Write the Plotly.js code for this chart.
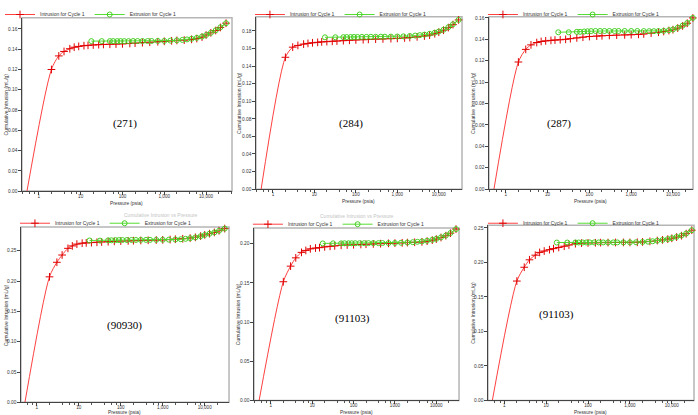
<!DOCTYPE html>
<html><head><meta charset="utf-8">
<script src="https://cdn.plot.ly/plotly-3.0.1.min.js"></script>
<style>html,body{margin:0;padding:0;background:#fff}</style>
</head><body><div id="chart" style="width:698px;height:415px"></div>
<script>
// ---- data ----
const intrusionPressure = [0.52, 2, 3, 4, 5.5, 7, 9, 12, 15, 20, 27, 35, 50, 70, 100, 150, 200, 300, 450, 700, 1000, 1500, 2000, 3000, 4500, 6000, 8000, 10000, 13000, 17000, 22000, 30000];
const extrusionPressure = [18, 32, 50, 60, 75, 90, 110, 140, 180, 230, 300, 400, 500, 700, 1000, 1400, 2000, 2700, 3500, 4500, 6000, 8000, 10000, 13000, 17000, 22000, 30000];

const intrusion271 = [0, 0.120, 0.1334, 0.1378, 0.1405, 0.1420, 0.1428, 0.1435, 0.1438, 0.1442, 0.1445, 0.1447, 0.1449, 0.1451, 0.1453, 0.1457, 0.1460, 0.1465, 0.1469, 0.1474, 0.1478, 0.1483, 0.1487, 0.1490, 0.1497, 0.1505, 0.1520, 0.1540, 0.1562, 0.1585, 0.1615, 0.1657];
const extrusion271 = [0.1480, 0.1480, 0.1480, 0.1480, 0.1480, 0.1480, 0.1480, 0.1480, 0.1481, 0.1481, 0.1481, 0.1481, 0.1481, 0.1482, 0.1482, 0.1485, 0.1488, 0.1492, 0.1497, 0.1503, 0.1512, 0.1525, 0.1540, 0.1562, 0.1587, 0.1617, 0.1657];

const intrusion284 = [0, 0.150, 0.1615, 0.1635, 0.1650, 0.1658, 0.1665, 0.1670, 0.1675, 0.1678, 0.1682, 0.1685, 0.1689, 0.1693, 0.1697, 0.1700, 0.1703, 0.1706, 0.1709, 0.1712, 0.1715, 0.1720, 0.1725, 0.1732, 0.1742, 0.1752, 0.1768, 0.1785, 0.1808, 0.1838, 0.1872, 0.1925];
const extrusion284 = [0.1727, 0.1728, 0.1729, 0.1730, 0.1730, 0.1731, 0.1731, 0.1732, 0.1732, 0.1733, 0.1733, 0.1734, 0.1734, 0.1735, 0.1736, 0.1738, 0.1742, 0.1747, 0.1752, 0.1758, 0.1767, 0.1780, 0.1793, 0.1813, 0.1842, 0.1876, 0.1925];

const intrusion287 = [0, 0.1188, 0.1306, 0.1348, 0.1370, 0.1380, 0.1385, 0.1390, 0.1393, 0.1396, 0.1400, 0.1406, 0.1413, 0.1420, 0.1426, 0.1430, 0.1433, 0.1436, 0.1439, 0.1441, 0.1443, 0.1446, 0.1450, 0.1458, 0.1466, 0.1473, 0.1482, 0.1490, 0.1505, 0.1525, 0.1550, 0.1600];
const extrusion287 = [0.1466, 0.1466, 0.1470, 0.1470, 0.1473, 0.1475, 0.1477, 0.1478, 0.1478, 0.1478, 0.1478, 0.1478, 0.1478, 0.1478, 0.1478, 0.1478, 0.1477, 0.1476, 0.1476, 0.1477, 0.1479, 0.1485, 0.1492, 0.1508, 0.1528, 0.1553, 0.1600];

const intrusion90930 = [0, 0.207, 0.231, 0.243, 0.254, 0.258, 0.261, 0.2625, 0.263, 0.2635, 0.264, 0.2645, 0.265, 0.2655, 0.266, 0.2663, 0.2666, 0.267, 0.2673, 0.2677, 0.268, 0.2685, 0.269, 0.2698, 0.2710, 0.2722, 0.2742, 0.2762, 0.2782, 0.2803, 0.2830, 0.2866];
const extrusion90930 = [0.2670, 0.2668, 0.2672, 0.2673, 0.2675, 0.2676, 0.2677, 0.2677, 0.2678, 0.2678, 0.2679, 0.2679, 0.2680, 0.2680, 0.2681, 0.2683, 0.2686, 0.2690, 0.2697, 0.2707, 0.2720, 0.2740, 0.2760, 0.2781, 0.2803, 0.2830, 0.2866];

const intrusion91103a = [0, 0.1515, 0.1714, 0.1820, 0.1890, 0.1915, 0.1935, 0.1945, 0.1950, 0.1960, 0.1967, 0.1973, 0.1980, 0.1984, 0.1987, 0.1991, 0.1994, 0.1998, 0.2001, 0.2005, 0.2008, 0.2012, 0.2015, 0.2019, 0.2024, 0.2033, 0.2046, 0.2060, 0.2080, 0.2103, 0.2135, 0.2187];
const extrusion91103a = [0.2004, 0.2005, 0.2005, 0.2006, 0.2006, 0.2006, 0.2007, 0.2007, 0.2007, 0.2008, 0.2008, 0.2008, 0.2009, 0.2009, 0.2010, 0.2013, 0.2016, 0.2020, 0.2025, 0.2030, 0.2038, 0.2050, 0.2063, 0.2082, 0.2105, 0.2137, 0.2187];

const intrusion91103b = [0, 0.173, 0.193, 0.2038, 0.2105, 0.2145, 0.2165, 0.2185, 0.2200, 0.2217, 0.2235, 0.2252, 0.2272, 0.2280, 0.2283, 0.2285, 0.2287, 0.2288, 0.2289, 0.2290, 0.2290, 0.2292, 0.2297, 0.2305, 0.2317, 0.2327, 0.2338, 0.2350, 0.2368, 0.2388, 0.2417, 0.2467];
const extrusion91103b = [0.2288, 0.2288, 0.2289, 0.2289, 0.2289, 0.2289, 0.2290, 0.2290, 0.2290, 0.2290, 0.2290, 0.2290, 0.2290, 0.2290, 0.2291, 0.2292, 0.2296, 0.2301, 0.2307, 0.2316, 0.2326, 0.2338, 0.2352, 0.2370, 0.2390, 0.2419, 0.2467];

const sampleLabels = ['(271)', '(284)', '(287)', '(90930)', '(91103)', '(91103)'];
const seriesNames = ['Intrusion for Cycle 1', 'Extrusion for Cycle 1'];
const xTickVals = [1, 10, 100, 1000, 10000];
const xTickTextComma = ['1', '10', '100', '1,000', '10,000'];
const xTickTextPlain = ['1', '10', '100', '1000', '10000'];
const xAxisTitle = 'Pressure (psia)';
const yAxisTitle = 'Cumulative Intrusion (mL/g)';
const faintTitle = 'Cumulative Intrusion vs Pressure';

// ---- layout geometry (pixels) ----
const W = 698, H = 415;
const panels = [
  {intr: intrusion271,   extr: extrusion271,   box: [19, 230, 7, 185],   yr: [0, 0.171], xr: [-0.405, 4.62], dy: 0.02, tt: xTickTextComma, yt: 3,   xt: 197.5, lg: [-3, 3.5]},
  {intr: intrusion284,   extr: extrusion284,   box: [254, 461, 6, 183],  yr: [0, 0.196], xr: [-0.41, 4.56],  dy: 0.02, tt: xTickTextComma, yt: 237, xt: 196, lg: [248, 3.5]},
  {intr: intrusion287,   extr: extrusion287,   box: [488, 693, 6, 183],  yr: [0, 0.161], xr: [-0.405, 4.48], dy: 0.02, tt: xTickTextComma, yt: 472, xt: 196, lg: [482, 3.5]},
  {intr: intrusion90930, extr: extrusion90930, box: [18, 227, 222, 402], yr: [0, 0.289], xr: [-0.38, 4.58],  dy: 0.05, tt: xTickTextComma, yt: 2.5, xt: 412.3, lg: [12, 218]},
  {intr: intrusion91103a,extr: extrusion91103a,box: [252, 458, 223, 400],yr: [0, 0.22],  xr: [-0.41, 4.55],  dy: 0.05, tt: xTickTextPlain, yt: 236, xt: 412.3, lg: [246, 219]},
  {intr: intrusion91103b,extr: extrusion91103b,box: [487, 694, 220, 400],yr: [0, 0.254], xr: [-0.39, 4.53],  dy: 0.05, tt: xTickTextComma, yt: 472, xt: 412.3, lg: [482, 218]}
];
const labelPos = [[108,107],[350,107],[572,107],[102,332],[351,325],[575,320]];

const minorVals = [];
[0.1,1,10,100,1000,10000].forEach(d => [2,4,6,8].forEach(m => minorVals.push(d*m)));

const px = x => x / W, py = y => 1 - y / H;
const FONT = 'Liberation Sans, Arial, sans-serif';
const data = [], layout = {
  width: W, height: H, margin: {l:0, r:0, t:0, b:0},
  paper_bgcolor: '#fff', plot_bgcolor: '#fff',
  font: {family: FONT, size: 5, color: '#333'},
  annotations: [], shapes: []
};

panels.forEach((p, i) => {
  const n = i + 1, sfx = n === 1 ? '' : String(n);
  const xa = 'x' + sfx, ya = 'y' + sfx;
  const lg = 'legend' + sfx;
  const [x0, x1, y0, y1] = p.box;
  layout['xaxis' + sfx] = {
    type: 'log', domain: [px(x0), px(x1)], range: p.xr, anchor: ya,
    tickmode: 'array', tickvals: xTickVals, ticktext: p.tt,
    ticks: 'outside', ticklen: 2.5, tickwidth: 1, tickcolor: '#444', ticklabelstandoff: -2,
    minor: {tickmode: 'array', tickvals: minorVals, ticks: 'outside', ticklen: 2, tickcolor: '#555'},
    showline: true, linecolor: '#444', linewidth: 1, showgrid: false, zeroline: false,
    tickfont: {size: 4.6, color: '#333'}
  };
  layout['yaxis' + sfx] = {
    domain: [py(y1), py(y0)], range: p.yr, anchor: xa,
    dtick: p.dy, tick0: 0, tickformat: '.2f',
    ticks: 'outside', ticklen: 2.5, tickwidth: 1, tickcolor: '#444', ticklabelstandoff: -1.5,
    showline: true, linecolor: '#444', linewidth: 1, showgrid: false, zeroline: false,
    tickfont: {size: 4.8, color: '#333'}
  };
  layout[lg] = {
    orientation: 'h', x: px(p.lg[0]), y: py(p.lg[1]), xanchor: 'left', yanchor: 'middle',
    bgcolor: 'rgba(0,0,0,0)', font: {size: 5, family: FONT, color: '#333'}, itemwidth: 30, tracegroupgap: 0
  };
  layout.shapes.push({type: 'rect', xref: xa + ' domain', yref: ya + ' domain', x0: 0, x1: 1, y0: 0, y1: 1,
    line: {color: '#b5b5b5', width: 1.5}, layer: 'below'});
  layout.annotations.push({xref: 'paper', yref: 'paper', x: px(labelPos[i][0]), y: py(labelPos[i][1]),
    text: sampleLabels[i], showarrow: false, font: {family: 'Liberation Serif, Times New Roman, serif', size: 11, color: '#000'}});
  // axis titles
  layout.annotations.push({xref: 'paper', yref: 'paper', x: px(p.yt), y: py((y0 + y1) / 2), textangle: -90,
    text: yAxisTitle, showarrow: false, xanchor: 'center', yanchor: 'middle', font: {size: 5, color: '#333'}});
  layout.annotations.push({xref: 'paper', yref: 'paper', x: px((x0 + x1) / 2), y: py(p.xt),
    text: xAxisTitle, showarrow: false, xanchor: 'center', yanchor: 'middle', font: {size: 4.8, color: '#333'}});

  data.push({
    type: 'scatter', mode: 'lines+markers', name: seriesNames[0], legend: lg,
    x: intrusionPressure, y: p.intr, xaxis: xa, yaxis: ya,
    line: {color: '#ff4040', width: 1, shape: 'spline', smoothing: 0.8},
    marker: {symbol: 'cross-thin', size: 5.5, opacity: intrusionPressure.map((v, k) => k === 0 ? 0 : 1),
             color: '#e00000', line: {color: '#e00000', width: 1}},
    cliponaxis: false
  });
  data.push({
    type: 'scatter', mode: 'lines+markers', name: seriesNames[1], legend: lg,
    x: extrusionPressure, y: p.extr, xaxis: xa, yaxis: ya,
    line: {color: '#55dd33', width: 1},
    marker: {symbol: 'circle-open', size: 5, color: '#44d022', line: {color: '#44d022', width: 1}},
    cliponaxis: false
  });
});

// faint header text above lower-left and lower-middle legends
layout.annotations.push({xref:'paper', yref:'paper', x: px(120), y: py(210), text: faintTitle, showarrow:false, font:{size:5, color:'#c4c4c4'}});
layout.annotations.push({xref:'paper', yref:'paper', x: px(356), y: py(211), text: faintTitle, showarrow:false, font:{size:5, color:'#c4c4c4'}});

Plotly.newPlot('chart', data, layout, {displayModeBar: false, staticPlot: true});
</script>
</body></html>
